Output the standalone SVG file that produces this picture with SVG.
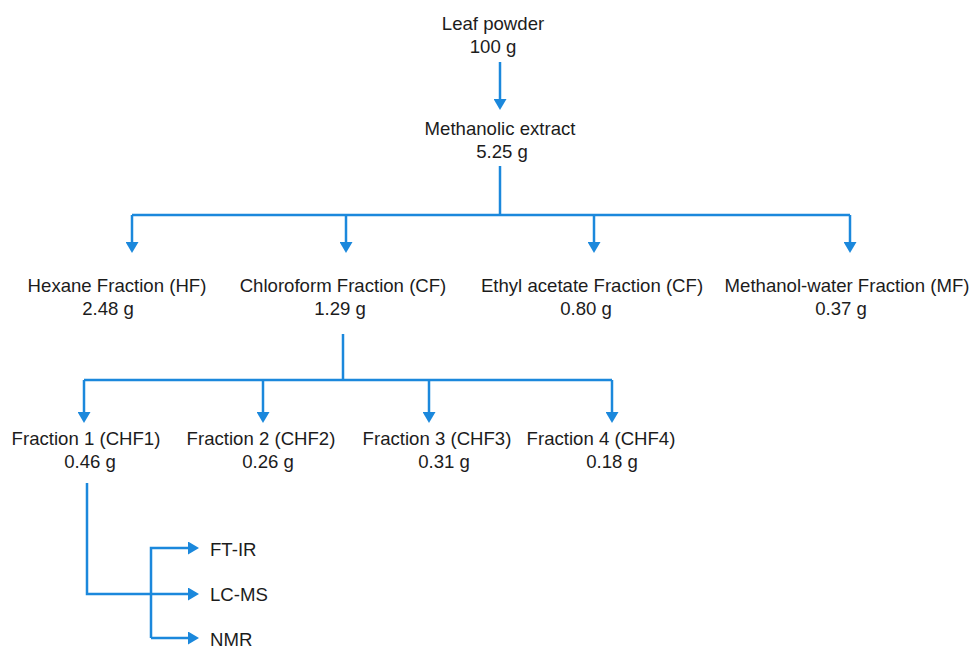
<svg xmlns="http://www.w3.org/2000/svg" width="971" height="649" viewBox="0 0 971 649">
<style>
  .lbl { font-family: "Liberation Sans", Arial, sans-serif; font-size: 18.6px; fill: #1c1c1c; text-anchor: middle; }
  .lft { text-anchor: start; }
  .cn { fill: none; stroke: #1b88dc; stroke-width: 2.5; }
  .ar { marker-end: url(#arrow); }
</style>
<defs>
  <marker id="arrow" viewBox="0 0 11 13" refX="3" refY="6.5" markerWidth="11" markerHeight="13" markerUnits="userSpaceOnUse" orient="auto">
    <path d="M0,0 L11,6.5 L0,13 z" fill="#1b88dc"/>
  </marker>
</defs>
<rect width="971" height="649" fill="#ffffff"/>

<g id="connectors">
  <line class="cn ar" x1="500" y1="62" x2="500" y2="102"/>
  <line class="cn" x1="500" y1="166" x2="500" y2="215"/>
  <line class="cn" x1="132" y1="215" x2="850" y2="215"/>
  <line class="cn ar" x1="132" y1="215" x2="132" y2="245"/>
  <line class="cn ar" x1="346" y1="215" x2="346" y2="245"/>
  <line class="cn ar" x1="594" y1="215" x2="594" y2="245"/>
  <line class="cn ar" x1="850" y1="215" x2="850" y2="245"/>
  <line class="cn" x1="343" y1="334" x2="343" y2="380"/>
  <line class="cn" x1="84" y1="380" x2="612" y2="380"/>
  <line class="cn ar" x1="84" y1="380" x2="84" y2="415"/>
  <line class="cn ar" x1="263" y1="380" x2="263" y2="415"/>
  <line class="cn ar" x1="429" y1="380" x2="429" y2="415"/>
  <line class="cn ar" x1="612" y1="380" x2="612" y2="415"/>
  <polyline class="cn ar" points="87,483 87,594 191,594"/>
  <polyline class="cn ar" points="151,638 151,548 191,548"/>
  <line class="cn ar" x1="151" y1="638" x2="191" y2="638"/>
</g>

<g id="leaf-powder">
  <text class="lbl" x="493" y="30">Leaf powder</text>
  <text class="lbl" x="493" y="53">100 g</text>
</g>
<g id="methanolic-extract">
  <text class="lbl" x="500" y="135">Methanolic extract</text>
  <text class="lbl" x="502" y="158">5.25 g</text>
</g>
<g id="hexane">
  <text class="lbl" x="117" y="292">Hexane Fraction (HF)</text>
  <text class="lbl" x="108" y="315">2.48 g</text>
</g>
<g id="chloroform">
  <text class="lbl" x="343" y="292">Chloroform Fraction (CF)</text>
  <text class="lbl" x="340" y="315">1.29 g</text>
</g>
<g id="ethyl-acetate">
  <text class="lbl" x="592" y="292">Ethyl acetate Fraction (CF)</text>
  <text class="lbl" x="586" y="315">0.80 g</text>
</g>
<g id="methanol-water">
  <text class="lbl" x="847" y="292">Methanol-water Fraction (MF)</text>
  <text class="lbl" x="841" y="315">0.37 g</text>
</g>
<g id="chf1">
  <text class="lbl" x="86" y="445">Fraction 1 (CHF1)</text>
  <text class="lbl" x="90" y="468">0.46 g</text>
</g>
<g id="chf2">
  <text class="lbl" x="261" y="445">Fraction 2 (CHF2)</text>
  <text class="lbl" x="268" y="468">0.26 g</text>
</g>
<g id="chf3">
  <text class="lbl" x="437" y="445">Fraction 3 (CHF3)</text>
  <text class="lbl" x="444" y="468">0.31 g</text>
</g>
<g id="chf4">
  <text class="lbl" x="601" y="445">Fraction 4 (CHF4)</text>
  <text class="lbl" x="612" y="468">0.18 g</text>
</g>
<g id="ftir">
  <text class="lbl lft" x="210" y="556">FT-IR</text>
</g>
<g id="lcms">
  <text class="lbl lft" x="210" y="601">LC-MS</text>
</g>
<g id="nmr">
  <text class="lbl lft" x="210" y="646">NMR</text>
</g>
</svg>
